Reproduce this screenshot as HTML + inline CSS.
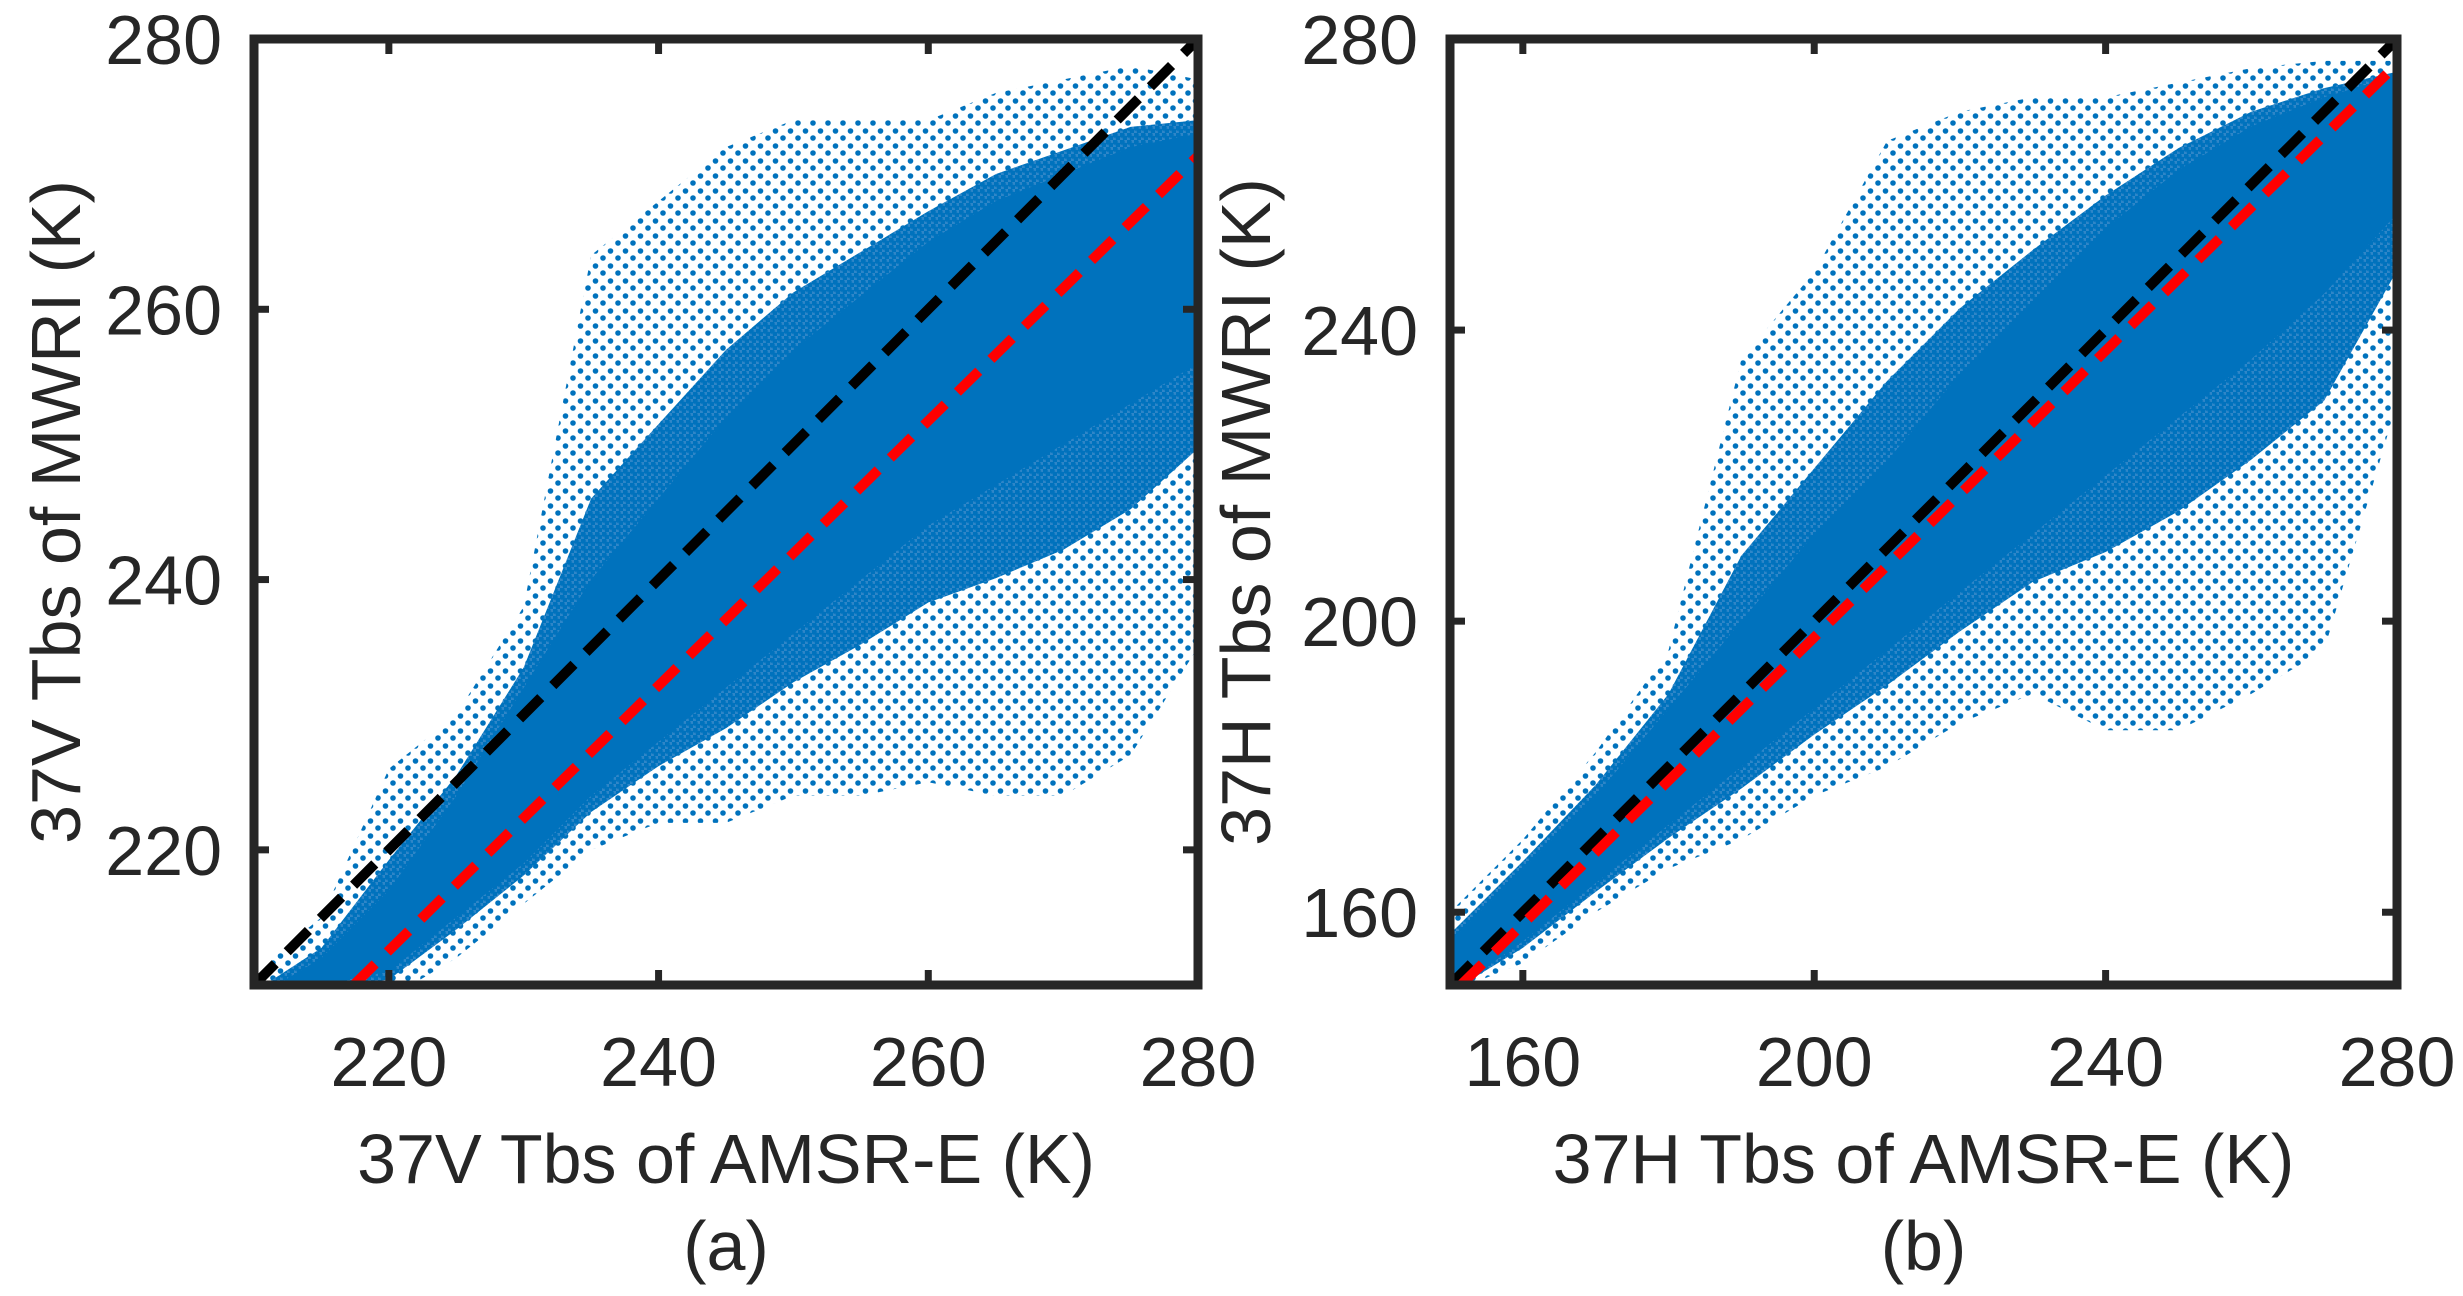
<!DOCTYPE html>
<html><head><meta charset="utf-8"><style>
html,body{margin:0;padding:0;background:#fff;}
svg text{font-family:"Liberation Sans",sans-serif;fill:#262626;}
</style></head><body>
<svg id="chart" width="2463" height="1291" viewBox="0 0 2463 1291" xmlns="http://www.w3.org/2000/svg">
<defs>
<pattern id="dotsA" width="15" height="15" patternUnits="userSpaceOnUse"><circle cx="3" cy="3" r="2.8" fill="#0072BD"/><circle cx="10.5" cy="11" r="2.8" fill="#0072BD"/></pattern>
<pattern id="dotsB" width="7" height="7" patternUnits="userSpaceOnUse"><rect width="7" height="7" fill="#2f86c8"/><circle cx="2" cy="2" r="2.8" fill="#0072BD"/><circle cx="5.5" cy="5.5" r="2.8" fill="#0072BD"/></pattern>
<clipPath id="clipA"><rect x="254" y="39" width="944" height="946"/></clipPath>
<clipPath id="clipB"><rect x="1450" y="39" width="947" height="946"/></clipPath>
</defs>
<g id="panelA"></g>
<g id="panelB"></g>
</svg>
<script>
// Panel (a) data: 37V
const aXBins = [210, 215, 220, 225, 230, 235, 240, 245, 250, 255, 260, 265, 270, 275, 280];
const aCoreLow = [209, 210, 211, 215, 219, 224, 228, 232, 236, 240, 244, 247, 250, 253, 256];
const aCoreHigh = [209, 212, 217, 224, 232, 240, 246, 252, 257, 261, 265, 268, 270, 272, 273];
const aOuterLow = [209, 209, 209, 212, 216, 220, 222, 222, 224, 224, 225, 224, 224, 227, 235];
const aOuterHigh = [211, 215, 226, 230, 238, 264, 268, 272, 274, 274, 274, 276, 277, 278, 277];
const aXTicks = [220, 240, 260, 280];
const aYTicks = [220, 240, 260, 280];
const aFit = [0.98, -3.05];
// Panel (b) data: 37H
const bXBins = [150, 160, 170, 180, 190, 200, 210, 220, 230, 240, 250, 260, 270, 280];
const bCoreLow = [149, 156, 164, 172, 180, 188, 196, 204, 212, 220, 228, 236, 245, 256];
const bCoreHigh = [156, 166, 176, 188, 200, 212, 222, 234, 244, 254, 262, 268, 272, 275];
const bOuterLow = [149, 153, 160, 166, 170, 176, 180, 186, 190, 185, 185, 190, 196, 230];
const bOuterHigh = [160, 170, 182, 196, 236, 248, 266, 270, 272, 272, 274, 276, 277, 277];
const bXTicks = [160, 200, 240, 280];
const bYTicks = [160, 200, 240, 280];
const bFit = [0.985, 0.77];

const NS = "http://www.w3.org/2000/svg";
function mk(tag, attrs, parent) {
  const e = document.createElementNS(NS, tag);
  for (const k in attrs) e.setAttribute(k, attrs[k]);
  parent.appendChild(e);
  return e;
}
function drawPanel(g, box, dom, xb, cl, ch, ol, oh, xt, yt, fit, clip, xlabel, ylabel, tag, ylabX) {
  const sx = v => box.x0 + (v - dom[0]) / (dom[1] - dom[0]) * (box.x1 - box.x0);
  const sy = v => box.y1 - (v - dom[0]) / (dom[1] - dom[0]) * (box.y1 - box.y0);
  const band = (lo, hi) => {
    let pts = xb.map((x, i) => sx(x) + "," + sy(hi[i]));
    for (let i = xb.length - 1; i >= 0; i--) pts.push(sx(xb[i]) + "," + sy(lo[i]));
    return pts.join(" ");
  };
  const cg = mk("g", {"clip-path": "url(#" + clip + ")"}, g);
  const halo = mk("polygon", {points: band(ol, oh), fill: "url(#dotsA)"}, cg);
  
  
  const mid = mk("polygon", {points: band(cl.map((v,i)=>v-(cl[i]-ol[i])*0.3), ch.map((v,i)=>v+(oh[i]-ch[i])*0.25)), fill: "url(#dotsB)"}, cg);
  
  
  const core = mk("polygon", {points: band(cl, ch), fill: "#0072BD"}, cg);
  
  
  const one = mk("line", {x1: sx(dom[0]), y1: sy(dom[0]), x2: sx(dom[1]), y2: sy(dom[1]), stroke: "#000", "stroke-width": 10, "stroke-dasharray": "30 17"}, cg);
  
  
  const xs = (dom[0] - fit[1]) / fit[0];
  const fl = mk("line", {x1: sx(xs), y1: sy(dom[0]), x2: sx(dom[1]), y2: sy(fit[0]*dom[1]+fit[1]), stroke: "#ff0000", "stroke-width": 10, "stroke-dasharray": "30 17"}, cg);
  
  
  const fr = mk("rect", {x: box.x0, y: box.y0, width: box.x1 - box.x0, height: box.y1 - box.y0, fill: "none", stroke: "#262626", "stroke-width": 9}, g);
  
  
  xt.forEach(v => {
    const x = sx(v);
    mk("line", {x1: x, y1: box.y1, x2: x, y2: box.y1 - 15, stroke: "#262626", "stroke-width": 7}, g);
    mk("line", {x1: x, y1: box.y0, x2: x, y2: box.y0 + 15, stroke: "#262626", "stroke-width": 7}, g);
    const t = mk("text", {x: x, y: 1086, "font-size": 70, "text-anchor": "middle"}, g);
    t.textContent = v;
    
    
  });
  yt.forEach(v => {
    const y = sy(v);
    mk("line", {x1: box.x0, y1: y, x2: box.x0 + 15, y2: y, stroke: "#262626", "stroke-width": 7}, g);
    mk("line", {x1: box.x1, y1: y, x2: box.x1 - 15, y2: y, stroke: "#262626", "stroke-width": 7}, g);
    const t = mk("text", {x: box.x0 - 32, y: y + 25, "font-size": 70, "text-anchor": "end"}, g);
    t.textContent = v;
    
    
  });
  const cx = (box.x0 + box.x1) / 2;
  const xl = mk("text", {x: cx, y: 1183, "font-size": 70, "text-anchor": "middle"}, g);
  xl.textContent = xlabel;
  
  
  const cy = (box.y0 + box.y1) / 2;
  const yl = mk("text", {x: ylabX, y: cy, "font-size": 70, "text-anchor": "middle", transform: "rotate(-90 " + ylabX + " " + cy + ")"}, g);
  yl.textContent = ylabel;
  
  
  const cap = mk("text", {x: cx, y: 1270, "font-size": 70, "text-anchor": "middle"}, g);
  cap.textContent = tag;
  
  
}
drawPanel(document.getElementById("panelA"), {x0: 254, x1: 1198, y0: 39, y1: 985}, [210, 280],
  aXBins, aCoreLow, aCoreHigh, aOuterLow, aOuterHigh, aXTicks, aYTicks, aFit, "clipA",
  "37V Tbs of AMSR-E (K)", "37V Tbs of MWRI (K)", "(a)", 80);
drawPanel(document.getElementById("panelB"), {x0: 1450, x1: 2397, y0: 39, y1: 985}, [150, 280],
  bXBins, bCoreLow, bCoreHigh, bOuterLow, bOuterHigh, bXTicks, bYTicks, bFit, "clipB",
  "37H Tbs of AMSR-E (K)", "37H Tbs of MWRI (K)", "(b)", 1270);
</script>
</body></html>
